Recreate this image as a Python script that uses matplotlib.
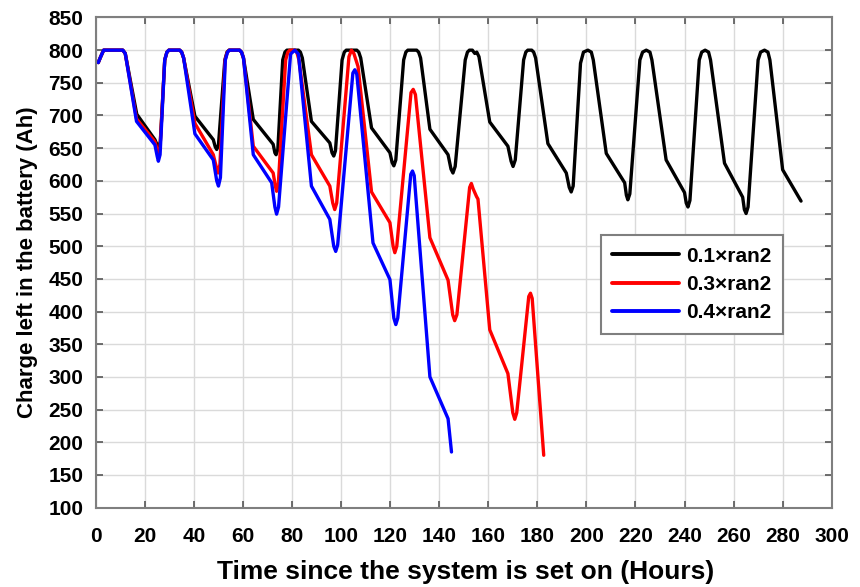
import matplotlib
matplotlib.use("Agg")
import matplotlib.pyplot as plt

# values (hours, Ah)
black_t = [1, 2, 3.2, 11, 12, 16.7, 24.1, 25.0, 25.6, 26.3, 28.1, 29.0, 29.8, 34.2, 35.0, 35.8,
           40.4, 47.9, 48.7, 49.3, 50.0, 52.6, 53.5, 54.3, 58.6, 59.4, 60.2,
           64.2, 72.3, 73.0, 73.5, 74.2, 76.2, 77.1, 77.9, 82.6, 83.4, 84.2,
           87.9, 95.4, 96.3, 97.0, 97.7, 100.4, 101.3, 102.1, 106.4, 107.2, 108.0,
           112.4, 119.9, 120.8, 121.5, 122.3, 125.5, 126.4, 127.2, 130.8, 131.6, 132.4,
           136.2, 143.6, 144.8, 145.6, 146.5, 150.6, 151.5, 152.3, 153.5, 154.5, 155.3, 156.2,
           160.6, 168.0, 169.3, 170.1, 171.0, 174.4, 175.3, 176.1, 177.7, 178.5, 179.3,
           184.3, 191.8, 193.0, 193.8, 194.6, 197.6, 198.8, 200.6, 202.0, 202.8,
           208.1, 215.6, 216.3, 216.9, 217.7, 221.8, 222.9, 224.4, 225.9, 226.7,
           232.5, 240.0, 240.7, 241.4, 242.2, 246.0, 247.0, 248.4, 249.8, 250.6,
           256.3, 263.7, 264.4, 265.1, 265.9, 270.0, 271.0, 272.6, 274.0, 274.8,
           280.0, 287.5]
black_q = [781, 790, 800, 800, 795, 702, 663, 655, 652, 660, 785, 797, 800, 800, 797, 788,
           699, 663, 652, 648, 655, 785, 797, 800, 800, 797, 788,
           694, 656, 643, 640, 648, 785, 797, 800, 800, 797, 788,
           691, 658, 643, 638, 646, 785, 797, 800, 800, 797, 788,
           681, 643, 628, 623, 632, 785, 797, 800, 800, 797, 788,
           679, 640, 618, 612, 622, 785, 797, 800, 800, 795, 797, 790,
           690, 653, 630, 622, 632, 785, 797, 800, 800, 797, 788,
           657, 612, 590, 583, 592, 780, 797, 800, 797, 785,
           642, 597, 578, 571, 580, 785, 797, 800, 797, 785,
           632, 582, 566, 560, 570, 785, 797, 800, 797, 785,
           627, 575, 556, 550, 560, 785, 797, 800, 797, 785,
           617, 569]

red_t = [1, 2, 3.2, 11, 12, 16.6, 24.1, 25.0, 25.5, 26.2, 28.1, 29.0, 29.8, 34.2, 35.0, 35.8,
         40.4, 47.9, 49.2, 49.8, 50.6, 52.7, 53.6, 54.4, 58.6, 59.4, 60.2,
         64.2, 72.3, 73.2, 73.7, 74.4, 77.4, 78.3, 79.1, 81.2, 82.0, 82.8,
         87.9, 95.4, 96.6, 97.4, 98.2, 103.2, 104.2, 105.2, 106.9,
         112.4, 119.9, 121.2, 121.9, 122.7, 128.5, 129.4, 130.3,
         136.2, 143.6, 145.5, 146.3, 147.2, 152.4, 153.1, 153.8, 155.2, 155.8,
         160.6, 168.0, 170.0, 170.8, 171.6, 176.5, 177.2, 177.9, 182.6]
red_q = [781, 790, 800, 800, 795, 695, 660, 648, 642, 652, 785, 797, 800, 800, 797, 788,
         688, 640, 620, 612, 625, 785, 797, 800, 800, 797, 788,
         653, 612, 592, 584, 595, 785, 797, 800, 800, 796, 785,
         640, 592, 566, 556, 566, 790, 800, 795, 775,
         583, 536, 500, 490, 500, 735, 740, 732,
         513, 448, 395, 386, 395, 590, 596, 588, 576, 572,
         372, 305, 245, 235, 245, 423, 428, 420, 180]

blue_t = [1, 2, 3.2, 11, 12, 16.6, 24.1, 25.0, 25.5, 26.2, 28.1, 29.0, 29.8, 34.2, 35.0, 35.8,
          40.4, 47.9, 49.3, 50.0, 50.8, 52.8, 53.7, 54.5, 58.6, 59.4, 60.2,
          64.2, 71.7, 73.0, 73.7, 74.5, 79.4, 81.1, 82.6,
          87.9, 95.4, 97.0, 97.8, 98.6, 104.8, 105.6, 106.4,
          113.0, 119.9, 121.5, 122.3, 123.1, 128.4, 129.1, 129.8,
          136.2, 143.6, 145.0]
blue_q = [781, 790, 800, 800, 795, 691, 655, 638, 630, 640, 785, 797, 800, 800, 797, 788,
          672, 632, 600, 592, 605, 785, 797, 800, 800, 797, 788,
          640, 597, 560, 549, 560, 794, 800, 794,
          592, 541, 500, 492, 502, 765, 770, 763,
          505, 449, 390, 380, 390, 610, 615, 608,
          300, 236, 185]

labels = ["0.1\u00d7ran2", "0.3\u00d7ran2", "0.4\u00d7ran2"]
colors = ["#000000", "#ff0000", "#0000ff"]

bold = ["Liberation Sans", "DejaVu Sans"]

fig = plt.figure(figsize=(8.6, 5.87), dpi=100)
ax = fig.add_axes([0.1114, 0.1354, 0.8557, 0.8348])

series = [(black_t, black_q), (red_t, red_q), (blue_t, blue_q)]
for (t, q), c, lab in zip(series, colors, labels):
    ax.plot(t, q, color=c, lw=2.4, label=lab, solid_joinstyle="round",
            solid_capstyle="round")

ax.set_xlim(0, 300)
ax.set_ylim(100, 850)
ax.set_xticks(range(0, 301, 20))
ax.set_yticks(range(100, 851, 50))
ax.grid(True, color="#dadada", lw=1.0)
ax.set_axisbelow(True)

for s in ax.spines.values():
    s.set_color("#7f7f7f")
    s.set_linewidth(1.5)

ax.tick_params(direction="in", top=True, right=True, length=5, width=1.2,
               color="#555555")
ax.tick_params(axis="y", pad=9)
ax.tick_params(axis="x", pad=14)
for lbl in ax.get_yticklabels():
    lbl.set_fontfamily(bold)
    lbl.set_fontweight("bold")
    lbl.set_fontsize(15)
for lbl in ax.get_xticklabels():
    lbl.set_fontfamily(bold)
    lbl.set_fontweight("bold")
    lbl.set_fontsize(15)

fig.text(28 / 860, 1 - 262 / 587, "Charge left in the battery (Ah)",
         rotation=90, ha="center", va="center", fontsize=16,
         fontweight="bold", family=bold)
fig.text(466 / 860, 1 - 572 / 587, "Time since the system is set on (Hours)",
         ha="center", va="center", fontsize=19, fontweight="bold", family=bold)

leg = ax.legend(loc="upper left", bbox_to_anchor=(0.6865, 0.556),
                prop={"family": bold, "weight": "bold", "size": 15},
                handlelength=3.2, handletextpad=0.35, labelspacing=0.45,
                borderpad=0.55, fancybox=False, framealpha=1, borderaxespad=0)
leg.get_frame().set_edgecolor("#7f7f7f")
leg.get_frame().set_linewidth(1.5)
for h in leg.get_lines():
    h.set_linewidth(2.8)

fig.savefig("out.png", dpi=100)
